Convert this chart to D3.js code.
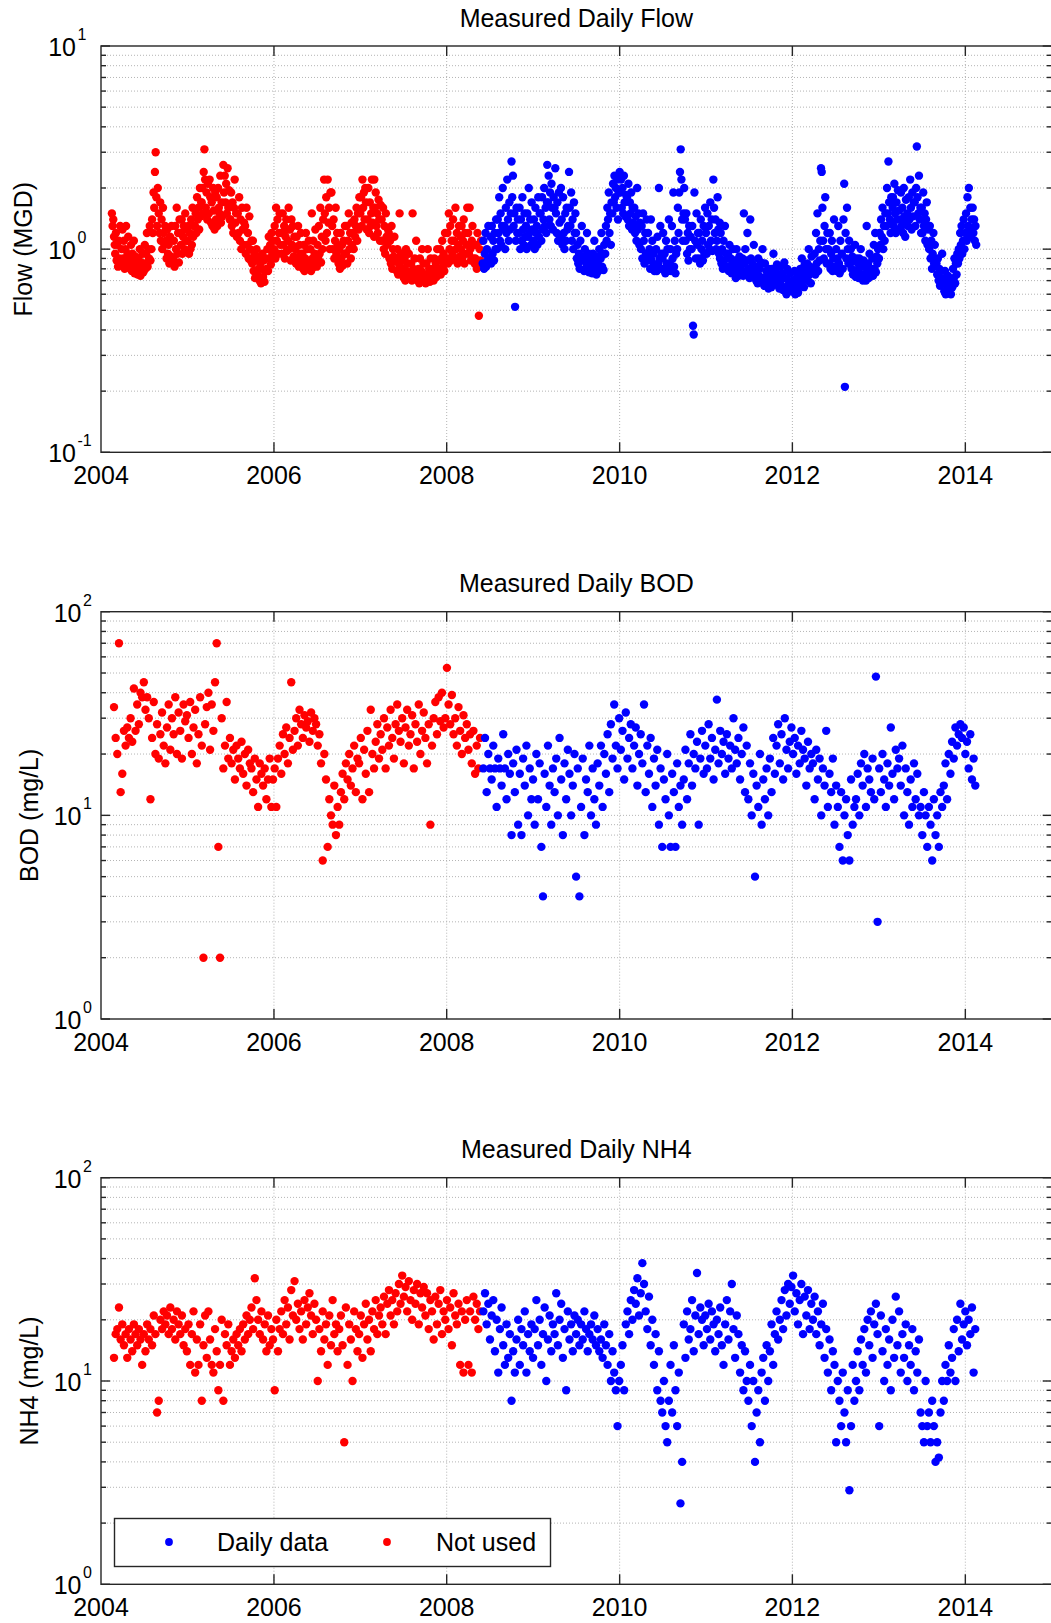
<!DOCTYPE html>
<html>
<head>
<meta charset="utf-8">
<script src="https://cdn.jsdelivr.net/npm/d3@7"></script>
<style>
html,body{margin:0;padding:0;background:#fff;}
svg{display:block;}
text{font-family:"Liberation Sans",Arial,Helvetica,sans-serif;fill:#000;}
</style>
</head>
<body>
<svg id="chart" width="1051" height="1623"></svg>
<script>
// ---------------- DATA ----------------
const xTickYears = [2004, 2006, 2008, 2010, 2012, 2014];
const seriesNames = ["Daily data", "Not used"];

// Flow (MGD): 10 samples per month (days 1,4,...,28), "Not used" from Feb 2004 to May 2008
const flowNotUsed = [
  null,null,null,null,null,1.5,1.3,1.4,1.15,1.05,
  0.95,1.2,0.88,1.05,0.82,1.1,0.9,1.3,0.85,1.0,
  1.25,0.9,1.1,0.8,1.0,1.3,0.87,0.95,1.15,0.82,
  0.9,0.8,1.05,0.78,0.95,0.85,1.1,0.76,0.92,0.83,
  0.8,0.75,0.9,0.78,1.0,0.74,0.86,0.79,0.95,0.77,
  0.85,1.05,0.8,0.95,1.2,0.82,1.0,0.9,1.3,0.88,
  1.0,1.4,1.2,1.9,1.6,2.4,3.0,1.8,1.3,2.0,
  1.5,1.2,1.7,1.1,1.4,1.0,1.6,1.2,1.05,1.3,
  1.1,0.9,1.25,0.95,1.05,0.85,1.15,0.92,1.3,0.88,
  0.9,1.1,0.82,1.3,1.0,1.6,0.95,1.2,0.86,1.4,
  1.2,1.05,1.4,0.95,1.15,1.3,1.0,1.5,1.1,1.25,
  1.1,1.3,0.95,1.2,1.0,1.4,1.05,1.6,1.15,1.3,
  1.3,1.5,1.2,1.8,1.4,1.6,1.25,2.0,1.45,1.7,
  1.7,2.0,1.5,2.4,3.1,2.2,1.6,1.9,1.4,2.1,
  1.5,2.2,1.8,1.35,1.7,1.3,2.0,1.55,1.25,1.9,
  1.4,1.8,1.3,2.0,1.6,1.5,2.3,1.35,1.7,1.45,
  2.6,1.9,2.3,1.7,2.1,1.5,2.5,1.6,1.95,1.4,
  1.4,1.9,1.3,1.7,1.2,1.6,2.2,1.35,1.5,1.15,
  1.5,1.2,1.8,1.1,1.4,1.0,1.6,1.25,1.05,1.35,
  1.3,0.95,1.6,1.05,1.2,0.9,1.45,1.0,0.88,1.1,
  0.85,1.1,0.78,0.95,0.72,0.88,1.0,0.75,0.92,0.8,
  0.7,0.85,0.68,0.8,0.95,0.73,0.88,0.69,0.78,0.9,
  0.8,1.0,0.78,1.15,0.9,1.05,0.84,1.2,0.95,1.1,
  1.0,1.3,0.9,1.6,1.1,1.4,0.95,1.2,1.5,1.05,
  1.2,0.95,1.5,1.05,1.3,0.9,1.15,1.4,0.98,1.25,
  1.1,1.6,1.0,1.25,0.88,1.4,1.05,1.3,0.92,1.15,
  1.0,0.85,1.15,0.9,1.3,0.82,1.05,0.95,1.2,0.87,
  0.95,0.8,1.05,0.78,0.9,1.2,0.84,1.0,0.8,1.1,
  0.85,1.0,0.78,1.5,0.9,1.1,0.82,0.95,1.25,0.88,
  0.82,1.05,0.9,1.3,0.95,1.6,0.86,1.15,1.0,1.4,
  2.2,1.5,1.1,1.8,1.2,2.2,1.35,1.6,1.0,1.9,
  1.9,1.3,1.0,1.4,0.9,1.1,1.6,0.95,1.2,1.05,
  0.85,1.0,0.8,1.2,0.9,1.05,0.83,1.1,0.95,1.3,
  0.95,1.3,0.85,1.1,1.5,1.0,1.2,0.9,1.35,1.05,
  1.2,1.0,1.4,1.15,1.3,1.6,1.1,1.5,1.25,1.8,
  1.5,1.8,1.3,2.2,1.6,1.9,1.4,2.0,1.7,1.25,
  1.4,2.0,1.2,1.7,1.3,1.5,2.2,1.35,1.6,1.15,
  2.2,1.6,1.9,1.3,1.5,1.2,1.75,1.4,1.1,1.65,
  1.4,1.1,1.6,1.0,1.3,0.95,1.5,1.15,1.05,1.25,
  1.2,0.9,1.1,0.85,1.3,0.8,1.0,0.92,1.15,0.87,
  0.9,0.78,1.0,0.75,0.85,1.5,0.82,0.95,0.77,0.88,
  0.8,0.72,0.9,0.7,1.0,0.78,0.85,0.74,0.95,0.76,
  0.75,0.85,0.7,1.5,0.8,0.72,0.9,0.78,1.1,0.73,
  0.7,0.8,0.68,0.9,0.72,0.78,1.0,0.71,0.85,0.75,
  0.75,0.68,0.85,0.7,1.0,0.74,0.8,0.69,0.9,0.77,
  0.72,0.8,0.7,0.9,0.76,0.85,0.73,1.0,0.78,0.88,
  0.8,1.0,0.75,0.9,1.1,0.82,0.95,0.78,1.2,0.86,
  0.9,1.2,0.85,1.5,1.0,1.3,0.88,1.1,0.95,1.4,
  1.1,0.9,1.6,1.0,1.2,0.85,1.05,1.3,0.92,1.15,
  1.0,1.3,0.9,1.1,1.4,0.85,1.2,0.95,1.05,1.6,
  1.2,0.95,1.6,1.0,0.88,1.1,1.3,0.9,1.05,0.85,
  0.9,1.05,0.8,1.2,0.85,0.47,1.0,0.88,1.1,0.82
];
// Flow "Daily data" from Jun 2008 to Feb 2014, same sampling
const flowDaily = [
  0.85,1.1,0.8,0.95,1.2,0.82,1.0,0.88,1.3,0.9,
  0.9,1.15,0.85,1.3,0.95,1.1,0.88,1.2,1.0,1.4,
  1.0,1.4,1.2,1.8,1.1,1.5,1.05,1.3,2.0,1.25,
  1.3,1.0,1.6,1.2,2.2,1.4,1.1,1.7,1.25,1.5,
  2.7,1.8,2.3,1.3,1.5,0.52,1.1,1.6,1.2,1.4,
  1.2,1.6,1.0,1.4,1.1,1.8,1.25,1.05,1.5,1.15,
  1.3,1.0,1.5,1.15,2.0,1.2,1.4,1.05,1.7,1.25,
  1.1,1.4,1.0,1.6,1.2,1.3,1.05,1.8,1.15,1.5,
  1.5,1.1,1.8,1.25,1.4,2.0,1.3,1.6,1.2,1.7,
  2.6,1.7,2.3,1.4,1.9,1.3,2.1,1.6,1.25,1.8,
  1.6,2.5,1.5,1.2,1.7,1.1,1.9,1.35,1.15,2.0,
  1.4,1.05,1.8,1.2,1.0,1.5,1.1,1.6,1.25,1.3,
  2.4,1.6,1.3,1.9,1.1,1.4,1.0,1.7,1.2,1.5,
  1.2,0.9,1.05,0.85,0.95,0.8,1.1,0.88,1.3,0.92,
  0.9,0.78,1.0,0.8,0.85,1.2,0.82,0.95,0.77,0.88,
  0.8,0.9,0.76,0.95,0.82,1.1,0.78,0.86,0.75,0.92,
  0.85,0.78,1.0,0.8,0.9,1.2,0.82,0.95,0.79,1.05,
  0.95,1.3,1.1,1.6,1.4,1.9,1.2,1.5,1.05,1.7,
  1.5,2.1,1.7,2.3,1.8,2.0,1.6,2.2,1.4,1.9,
  2.4,1.9,2.2,1.6,2.0,1.5,2.3,1.7,1.45,1.85,
  1.8,1.4,2.1,1.3,1.7,1.5,1.9,1.25,1.6,1.35,
  1.3,1.6,1.2,1.45,1.1,2.0,1.25,1.5,1.05,1.35,
  1.0,1.3,0.9,1.5,1.1,0.85,1.2,0.95,1.4,0.88,
  1.2,0.9,1.0,0.8,1.4,0.88,1.1,0.82,0.95,0.78,
  0.82,1.0,0.78,1.15,0.85,2.0,0.9,1.3,0.8,0.95,
  0.9,1.2,0.8,0.95,0.76,1.1,0.85,1.0,0.78,1.4,
  0.85,1.0,0.78,1.3,0.9,1.9,0.82,1.1,0.76,0.95,
  1.0,1.6,1.2,1.9,2.4,3.1,2.2,1.4,1.1,1.5,
  2.0,1.4,1.1,1.5,0.95,1.2,0.88,1.3,1.0,1.15,
  1.0,1.3,0.42,0.38,1.9,1.1,0.9,1.5,1.05,1.2,
  0.9,1.2,0.85,1.4,1.0,1.1,0.88,1.3,0.95,1.6,
  1.2,0.95,1.5,1.05,1.3,1.0,1.7,1.1,1.4,0.98,
  2.2,1.6,1.2,1.4,1.0,1.1,1.8,1.25,0.95,1.35,
  0.9,1.2,0.85,1.0,0.8,1.1,0.88,1.3,0.82,0.95,
  0.82,0.95,0.78,1.05,0.8,0.9,0.76,0.86,1.0,0.79,
  0.76,0.88,0.72,1.0,0.8,0.85,0.74,0.92,0.78,0.83,
  0.78,0.9,0.74,1.5,0.85,1.0,0.76,0.88,1.2,0.8,
  0.8,0.72,1.4,0.9,0.76,0.85,0.74,1.05,0.78,0.82,
  0.7,0.82,0.68,0.9,0.74,0.8,0.7,0.86,0.72,1.0,
  0.72,0.66,0.85,0.7,0.78,0.68,0.75,0.64,0.8,0.7,
  0.74,0.65,0.8,0.7,0.95,0.72,0.67,0.78,0.69,0.84,
  0.68,0.75,0.64,0.82,0.7,0.66,0.76,0.63,0.72,0.86,
  0.63,0.72,0.6,0.8,0.66,0.7,0.62,0.76,0.65,0.69,
  0.62,0.7,0.65,0.78,0.6,0.72,0.64,0.68,0.61,0.74,
  0.68,0.8,0.66,0.9,0.7,0.75,0.65,0.84,0.72,0.78,
  0.72,0.85,0.7,1.0,0.75,0.82,0.68,0.92,0.77,0.8,
  0.8,0.95,0.75,1.2,0.85,1.5,0.78,1.0,0.88,1.1,
  2.5,2.4,1.6,1.1,0.9,1.3,1.8,1.0,0.85,1.2,
  1.0,0.85,1.2,0.8,0.95,1.1,0.78,0.9,1.4,0.82,
  0.82,1.0,0.78,0.9,1.3,0.85,0.76,1.1,0.8,0.95,
  0.8,1.4,2.1,0.21,1.2,0.9,1.6,1.0,0.85,1.1,
  0.85,1.0,0.8,0.92,0.75,0.88,0.78,1.05,0.73,0.9,
  0.78,0.85,0.72,0.9,0.76,1.0,0.74,0.82,0.7,0.88,
  0.75,0.82,0.7,1.3,0.78,0.85,0.72,0.95,0.76,0.8,
  0.8,0.9,0.74,1.05,0.8,1.2,0.77,0.92,0.85,1.0,
  0.9,1.2,1.05,1.4,1.15,1.6,1.0,1.3,1.1,1.5,
  1.3,2.0,1.5,2.7,1.7,1.4,1.2,1.8,1.35,1.6,
  1.8,1.3,2.1,1.5,1.2,1.7,1.4,1.95,1.25,1.55,
  1.4,1.9,1.3,1.6,1.2,2.0,1.45,1.15,1.75,1.35,
  1.5,1.3,1.8,1.4,2.2,1.6,1.25,1.9,1.45,1.7,
  1.7,1.3,2.0,3.2,1.8,1.5,2.3,1.4,1.6,1.2,
  1.6,1.2,1.9,1.3,1.5,1.1,1.4,1.7,1.05,1.25,
  1.0,1.3,0.9,1.1,0.8,0.95,1.2,0.85,1.05,0.88,
  0.85,0.75,0.9,0.7,0.8,0.66,0.78,0.72,0.95,0.68,
  0.7,0.62,0.78,0.6,0.68,0.64,0.74,0.61,0.66,0.72,
  0.6,0.7,0.65,0.8,0.72,0.9,0.68,0.85,0.75,0.95,
  0.85,1.0,0.9,1.2,1.05,1.3,0.95,1.1,1.4,1.0,
  1.2,1.5,1.1,1.8,1.3,2.0,1.15,1.6,1.25,1.4,
  1.6,1.2,1.4,1.1,1.3,1.05,null,null,null,null
];

// BOD (mg/L): weekly samples, "Not used" from 2004-02-25, "Daily data" from 2008-06-04
const bodNotUsed = [
  34,24,20,70,13,
  16,26,22,27,24,30,23,42,26,35,28,40,38,
  45,33,38,30,12,24,36,20,28,19,25,32,22,
  18,27,35,21,30,25,38,20,32,26,19,35,29,
  31,24,36,20,27,33,18,25,38,22,2,28,34,
  40,21,35,26,45,70,7,2,30,17,22,36,19,
  24,18,21,15,22,19,17,23,16,20,14,21,18,
  17,13,19,15,11,18,16,14,17,12,15,19,11,
  15,17,11,19,22,16,25,20,27,18,24,45,21,
  26,30,22,33,28,24,31,27,29,23,32,26,30,
  28,22,25,18,6,20,15,7,12,10,9,14,8,
  11,9,13,16,12,18,15,20,14,17,22,13,19,
  18,24,12,21,16,26,13,33,20,17,23,28,19,
  25,21,30,17,27,22,33,24,19,28,35,26,23,
  30,18,27,33,22,25,31,17,28,23,35,20,26,
  32,24,18,28,9,22,30,36,25,38,29,40,27,
  30,53,35,28,39,25,30,22,34,26,20,31,24,
  28,21,25,18,26,16,22,17,24
];
const bodDaily = [
  17,24,13,20,17,15,22,17,11,19,17,14,25,17,12,20,16,
  8,18,13,21,9,16,8,19,14,22,10,17,12,
  15,9,20,12,18,7,4,16,11,22,14,9,17,
  13,19,10,24,15,8,18,12,21,16,10,14,20,
  5,17,4,11,19,8,15,13,22,10,17,12,9,
  18,14,22,11,20,16,25,13,28,19,35,22,17,
  30,21,26,15,32,19,24,28,17,22,27,14,20,
  25,18,35,13,22,16,24,11,19,14,21,9,17,
  7,15,12,20,10,7,16,13,7,18,11,14,9,
  15,21,12,18,25,14,20,17,23,9,19,26,16,
  22,17,28,19,24,15,21,37,18,26,20,23,16,
  25,19,22,17,30,21,18,24,15,20,27,13,22,
  12,18,10,16,5,14,11,20,9,15,12,17,10,
  19,13,24,16,22,28,18,25,15,30,21,17,23,
  27,20,24,16,22,18,26,21,19,14,23,17,20,
  18,12,21,15,19,10,17,14,26,11,16,13,19,
  9,14,11,7,13,6,10,12,8,6,15,9,11,
  12,16,10,18,14,20,11,17,15,13,19,12,48,
  3,17,13,20,15,11,18,14,27,16,12,21,17,
  19,14,22,10,17,13,9,15,11,18,12,16,10,
  11,8,13,10,7,11,9,6,12,8,10,7,13,
  11,14,18,12,20,16,23,19,27,22,25,28,24,
  27,20,23,17,25,15,19,14
];

// NH4 (mg/L): weekly samples, same start dates
const nh4NotUsed = [
  13,17,18,23,16,
  19,15,17,13,18,16,14,19,17,15,18,16,12,
  17,14,19,16,18,15,21,17,7,8,20,18,22,
  19,21,17,23,18,20,16,22,19,17,21,15,18,
  14,19,12,17,22,11,16,12,19,8,15,21,13,
  22,16,12,11,18,14,9,12,20,8,17,15,19,
  12,14,16,13,17,15,18,14,19,16,21,17,20,
  23,18,32,25,20,17,22,16,19,14,21,15,18,
  16,9,20,14,18,22,17,25,19,23,16,28,21,
  31,20,24,18,22,16,25,19,23,27,21,17,24,
  20,10,18,14,22,16,19,12,21,15,25,17,19,
  14,18,21,15,5,23,12,19,16,10,22,18,14,
  17,21,13,19,24,16,20,14,22,18,25,17,21,
  23,19,26,17,24,28,21,25,19,27,22,30,24,
  33,26,29,22,31,25,20,28,24,30,19,27,23,
  29,21,27,18,25,22,16,26,19,24,28,17,22,
  20,25,18,23,15,27,21,19,24,12,22,11,20,
  25,12,22,11,26,20,24,18,22
];
const nh4Daily = [
  22,27,19,24,16,21,25,14,20,11,18,23,15,12,19,13,17,
  8,14,11,16,20,12,18,15,22,11,17,14,19,
  13,18,25,15,20,12,17,23,10,16,21,14,19,
  17,27,15,20,24,13,18,9,22,16,19,14,21,
  17,20,15,19,16,22,18,14,17,19,16,21,15,
  18,14,16,13,19,15,12,17,10,14,11,9,6,
  10,12,15,9,19,22,17,25,20,28,24,32,21,
  27,38,30,22,18,26,15,20,12,17,9,14,8,
  7,10,6,5,8,12,7,15,9,6,11,2.5,4,
  19,13,22,16,18,25,14,21,34,17,23,20,15,
  21,18,24,16,22,19,14,20,17,23,15,12,19,
  25,16,22,30,18,13,21,17,11,15,9,14,10,
  8,12,6,10,4,7,9,5,11,13,8,15,10,
  14,19,12,17,22,16,20,25,18,28,21,30,24,
  29,33,22,27,19,25,30,17,26,21,28,18,24,
  20,26,17,22,15,19,24,13,18,11,16,9,14,
  12,5,10,8,6,11,7,5,9,2.9,6,12,8,
  10,14,9,16,12,18,11,20,15,22,13,19,24,
  17,6,21,14,10,18,12,16,9,20,13,26,15,
  22,11,17,13,19,10,15,12,18,9,14,11,16,
  7,6,5,10,6,7,5,8,6,4,5,4.2,7,
  10,8,12,10,15,11,13,18,10,20,14,24,16,
  19,22,15,20,17,23,11,18
];

// ---------------- DRAWING ----------------
const svg = d3.select("#chart");
const left = 101, right = 1051.7;
const COLORS = {daily: "#0000ff", notused: "#ff0000"};
const FONT = 25;

const x = d3.scaleTime()
  .domain([new Date(2004, 0, 1), new Date(2015, 0, 1)])
  .range([left, right]);

function monthlyDates(vals, y0, m0) {
  return vals.map((v, i) => ({date: new Date(y0, m0 + Math.floor(i / 10), 1 + 3 * (i % 10)), v}));
}
function weeklyDates(vals, start) {
  const t0 = start.getTime();
  return vals.map((v, i) => ({date: new Date(t0 + i * 7 * 864e5), v}));
}

const panels = [
  {title: "Measured Daily Flow", ylabel: "Flow (MGD)", top: 46, bottom: 452.3, exps: [-1, 0, 1],
   labelEnd: 76, ylabelX: 23,
   notUsed: monthlyDates(flowNotUsed, 2004, 1), daily: monthlyDates(flowDaily, 2008, 5)},
  {title: "Measured Daily BOD", ylabel: "BOD (mg/L)", top: 611.7, bottom: 1019, exps: [0, 1, 2],
   labelEnd: 81.5, ylabelX: 29,
   notUsed: weeklyDates(bodNotUsed, new Date(2004, 1, 25)), daily: weeklyDates(bodDaily, new Date(2008, 5, 4))},
  {title: "Measured Daily NH4", ylabel: "NH4 (mg/L)", top: 1177.7, bottom: 1584.3, exps: [0, 1, 2],
   labelEnd: 81.5, ylabelX: 29, legend: true,
   notUsed: weeklyDates(nh4NotUsed, new Date(2004, 1, 25)), daily: weeklyDates(nh4Daily, new Date(2008, 5, 4))}
];

panels.forEach(p => {
  const e0 = p.exps[0], e1 = p.exps[p.exps.length - 1];
  const y = d3.scaleLog().domain([Math.pow(10, e0), Math.pow(10, e1)]).range([p.bottom, p.top]);
  const g = svg.append("g");
  const minor = [];
  for (let e = e0; e < e1; e++) for (let k = 2; k <= 9; k++) minor.push(k * Math.pow(10, e));
  const major = p.exps.map(e => Math.pow(10, e));
  const xt = xTickYears.map(yr => new Date(yr, 0, 1));

  // grid
  const grid = g.append("g").attr("stroke", "#b4b4b4").attr("stroke-width", 1).attr("stroke-dasharray", "1,2").attr("fill", "none");
  grid.selectAll("line.hy").data(minor.concat(major.slice(1, -1))).join("line")
    .attr("x1", left).attr("x2", right).attr("y1", d => y(d)).attr("y2", d => y(d));
  grid.selectAll("line.vx").data(xt.slice(1)).join("line")
    .attr("y1", p.top).attr("y2", p.bottom).attr("x1", d => x(d)).attr("x2", d => x(d));

  // data
  const r = 4.2;
  const drawPts = (arr, color) => g.append("g").attr("fill", color)
    .selectAll("circle").data(arr.filter(d => d.v != null)).join("circle")
    .attr("cx", d => x(d.date)).attr("cy", d => y(d.v)).attr("r", r);
  drawPts(p.notUsed, COLORS.notused);
  drawPts(p.daily, COLORS.daily);

  // axes box and ticks
  const ax = g.append("g").attr("stroke", "#262626").attr("stroke-width", 1.4).attr("fill", "none");
  ax.append("rect").attr("x", left).attr("y", p.top).attr("width", right - left).attr("height", p.bottom - p.top);
  xt.slice(1).forEach(d => {
    ax.append("line").attr("x1", x(d)).attr("x2", x(d)).attr("y1", p.bottom).attr("y2", p.bottom - 10);
    ax.append("line").attr("x1", x(d)).attr("x2", x(d)).attr("y1", p.top).attr("y2", p.top + 10);
  });
  minor.forEach(d => {
    ax.append("line").attr("x1", left).attr("x2", left + 5).attr("y1", y(d)).attr("y2", y(d));
    ax.append("line").attr("x1", right).attr("x2", right - 5).attr("y1", y(d)).attr("y2", y(d));
  });
  major.forEach(d => {
    ax.append("line").attr("x1", left).attr("x2", left + 9).attr("y1", y(d)).attr("y2", y(d));
    ax.append("line").attr("x1", right).attr("x2", right - 9).attr("y1", y(d)).attr("y2", y(d));
  });

  // x tick labels
  g.selectAll("text.xl").data(xt).join("text")
    .attr("x", d => x(d)).attr("y", p.bottom + 32)
    .attr("text-anchor", "middle").attr("font-size", FONT)
    .text(d => d3.timeFormat("%Y")(d));

  // y tick labels 10^e
  p.exps.forEach(e => {
    const yy = y(Math.pow(10, e));
    g.append("text").attr("x", p.labelEnd).attr("y", yy + 10)
      .attr("text-anchor", "end").attr("font-size", FONT).text("10");
    g.append("text").attr("x", p.labelEnd + 1.5).attr("y", yy - 6)
      .attr("text-anchor", "start").attr("font-size", 16).text(String(e));
  });

  // title
  g.append("text").attr("x", (left + right) / 2).attr("y", p.top - 19.5)
    .attr("text-anchor", "middle").attr("font-size", FONT).text(p.title);

  // y label
  g.append("text").attr("transform", `translate(${p.ylabelX + 9},${(p.top + p.bottom) / 2}) rotate(-90)`)
    .attr("text-anchor", "middle").attr("font-size", FONT).text(p.ylabel);

  // legend
  if (p.legend) {
    const lg = g.append("g");
    lg.append("rect").attr("x", 114.5).attr("y", 1518.5).attr("width", 436).attr("height", 48)
      .attr("fill", "#fff").attr("stroke", "#262626").attr("stroke-width", 1.4);
    const items = [
      {name: seriesNames[0], color: COLORS.daily, mx: 169, tx: 217},
      {name: seriesNames[1], color: COLORS.notused, mx: 387, tx: 436}
    ];
    items.forEach(it => {
      lg.append("circle").attr("cx", it.mx).attr("cy", 1542).attr("r", 3.9).attr("fill", it.color);
      lg.append("text").attr("x", it.tx).attr("y", 1551).attr("font-size", FONT).text(it.name);
    });
  }
});
</script>
</body>
</html>
